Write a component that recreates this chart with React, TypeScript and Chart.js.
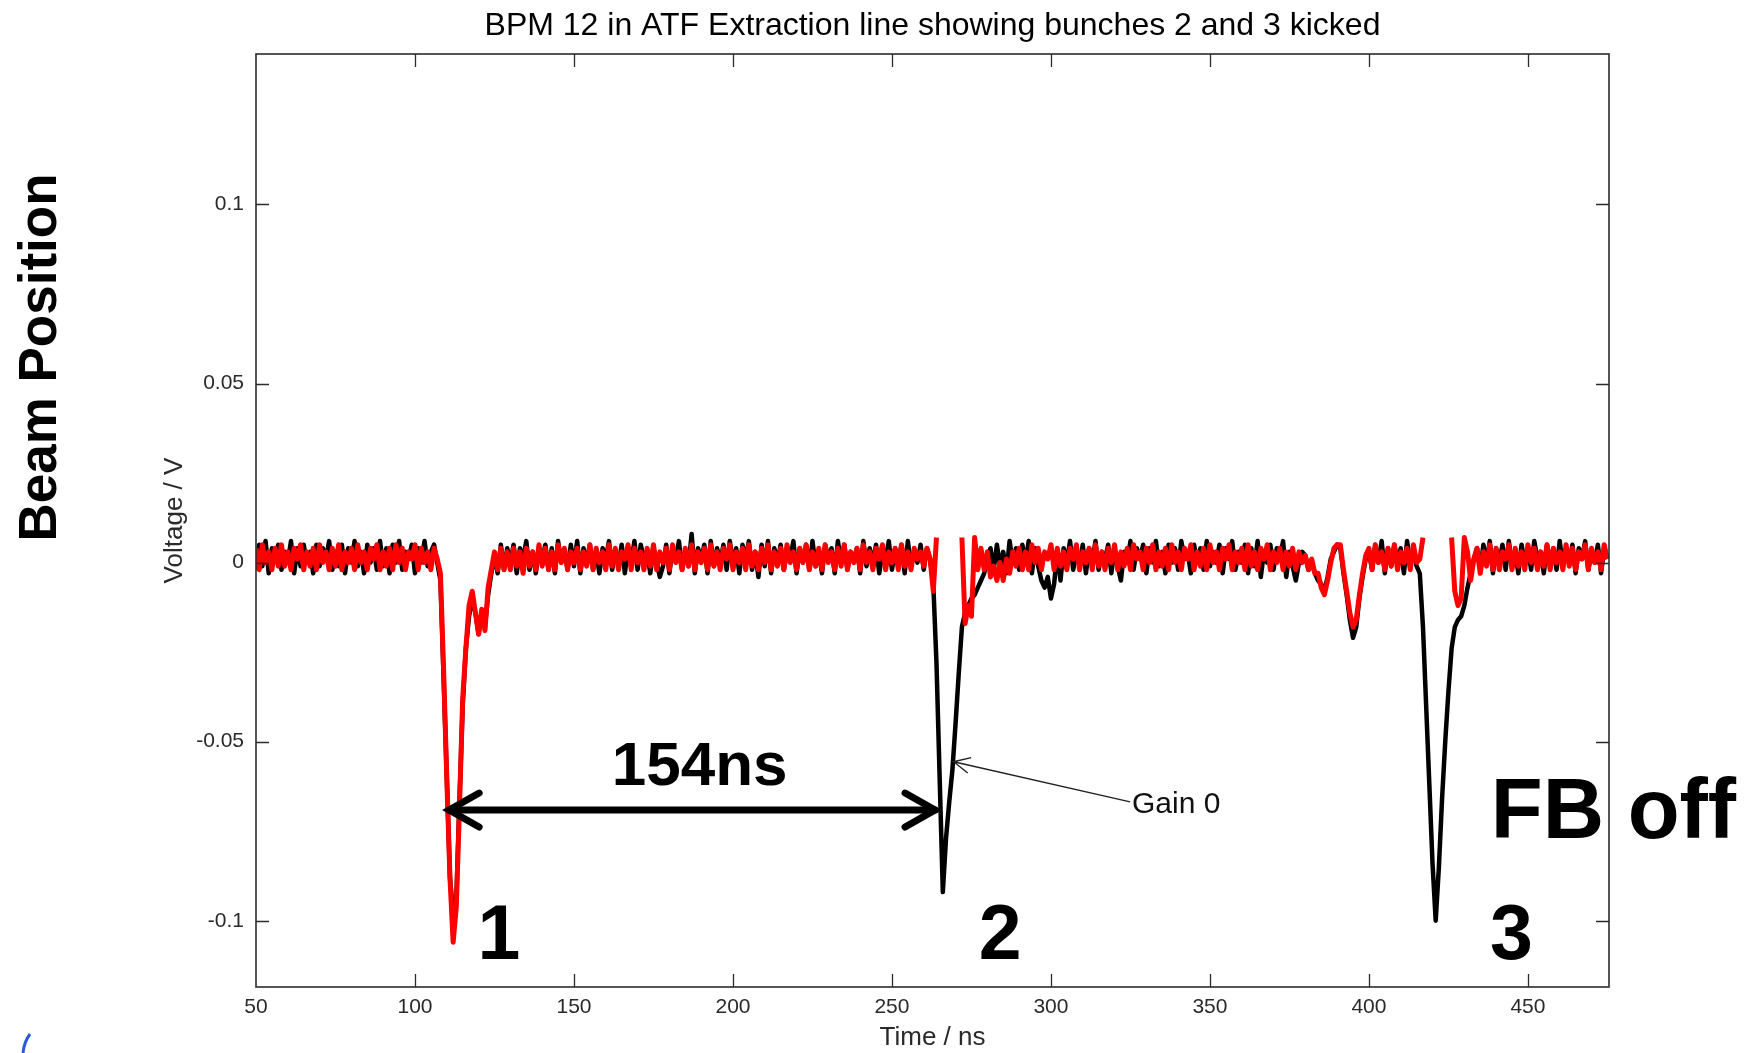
import React, { useEffect, useRef } from 'react';
import { Chart, registerables } from 'chart.js';

Chart.register(...registerables);

// ---------------- data ----------------
const TITLE = 'BPM 12 in ATF Extraction line showing bunches 2 and 3 kicked';
const X_TITLE = 'Time / ns';
const Y_TITLE = 'Voltage / V';
const SIDE_LABEL = 'Beam Position';

const X_TICKS = [50, 100, 150, 200, 250, 300, 350, 400, 450];
const X_TICK_LABELS = ['50', '100', '150', '200', '250', '300', '350', '400', '450'];
const Y_TICKS = [0.1, 0.05, 0, -0.05, -0.1];
const Y_TICK_LABELS = ['0.1', '0.05', '0', '-0.05', '-0.1'];

const X_MIN = 50;
const X_MAX = 475.5;
const Y_MIN = -0.1185;
const Y_MAX = 0.142;

// samples every 1 ns starting at 50 ns, values in mV
const T_START_NS = 50;
const T_STEP_NS = 1;

// Gain 0 / FB off trace (black)
const BLACK_MV = [
  -2, 5, -1, 6, -3, 4, 1, 5, -2, 3, // 50
  0, 6, -3, 4, -1, 5, 0, 3, -3, 5, // 60
  -1, 4, 1, 6, -2, 3, -1, 5, -3, 4, // 70
  0, 6, -1, 3, -3, 5, 0, 4, -2, 6, // 80
  -1, 4, -3, 5, 0, 6, -2, 3, 1, 5, // 90
  -3, 4, 0, 6, -1, 3, 5, 0, -5, -32, // 100
  -60, -88, -98, -94, -66, -40, -24, -15, -10, -14, // 110
  -20, -14, -18, -9, -3, 2, -3, 5, -2, 4, // 120
  0, 5, -3, 4, 1, 6, -2, 3, -3, 4, // 130
  1, 5, -2, 4, -3, 6, 0, 3, -2, 5, // 140
  -1, 6, -3, 4, 0, 5, -2, 3, -3, 4, // 150
  1, 6, -2, 3, -1, 5, -3, 4, 0, 6, // 160
  -2, 5, 1, 3, -3, 4, 0, -4, -1, 5, // 170
  -3, 4, 1, 6, -2, 3, -1, 8, -3, 4, // 180
  1, 5, -3, 6, -1, 4, 0, 5, -2, 6, // 190
  0, 4, -3, 5, 1, 6, -2, 3, -4, 5, // 200
  -1, 6, -3, 4, 0, 5, -2, 3, 1, 6, // 210
  -3, 4, 0, 5, -2, 6, -1, 3, -3, 5, // 220
  1, 4, -3, 6, 0, 5, -2, 3, 1, 4, // 230
  -3, 6, -1, 4, 0, 5, -3, 3, 1, 6, // 240
  -2, 4, 0, 5, -3, 6, -1, 3, 0, 5, // 250
  -2, 4, 1, -6, -28, -60, -92, -77, -67, -58, // 260
  -45, -31, -18, -14, -12, -10, -9, -7, -5, -3, // 270
  1, 4, -2, 5, -1, 3, -3, 6, 0, 4, // 280
  -2, 5, 0, 6, -3, 4, -1, -5, -7, -4, // 290
  -10, -6, 3, -5, 4, 0, 6, -2, 3, -1, // 300
  5, -3, 4, 0, 6, -2, 3, 1, 5, -3, // 310
  4, -1, -5, 3, 0, 6, -2, 4, 1, 5, // 320
  -3, 4, 0, 6, -1, 3, -3, 5, 0, 4, // 330
  -2, 6, 1, 3, -3, 5, 0, 4, -2, 6, // 340
  -1, 3, 0, 5, -3, 4, 1, 6, -2, 3, // 350
  0, 5, -3, 4, -1, 6, -4, 3, 0, 5, // 360
  -2, 4, 1, 6, -4, 3, -1, -5, 0, 3, // 370
  2, -2, 0, -3, -5, -6, -8, -4, 1, 3, // 380
  5, 4, -3, -9, -16, -21, -18, -10, -4, 1, // 390
  3, -2, 5, 0, 6, -3, 4, -1, 5, 0, // 400
  4, -3, 6, 0, 3, -1, -3, -18, -40, -62, // 410
  -84, -100, -85, -66, -50, -36, -24, -18, -16, -15, // 420
  -12, -7, -3, 1, 4, -2, 5, 0, 6, -3, // 430
  4, 0, 5, -2, 6, -1, 3, -3, 5, 0, // 440
  4, -2, 6, 1, 3, -3, 5, 0, 4, -2, // 450
  6, -1, 3, 0, 5, -3, 4, 1, 6, -2, // 460
  3, 0, 5, -3, 4, 1, // 470
];

// kicked trace (red); null = off the visible band
const RED_MV = [
  4, -2, 5, 0, 3, -2, 4, -1, 5, -1, // 50
  3, -2, 4, 1, 5, -2, 3, -1, 4, -2, // 60
  5, 0, 3, -2, 4, -1, 5, -2, 3, 0, // 70
  4, -2, 5, 0, 3, -2, 4, 1, 5, -2, // 80
  3, -1, 4, -2, 5, 0, 4, -2, 3, 1, // 90
  5, -2, 4, 0, 3, -2, 4, 1, -3, -30, // 100
  -60, -88, -106, -96, -68, -38, -24, -12, -8, -14, // 110
  -20, -13, -19, -7, -2, 3, -2, 4, -2, 3, // 120
  -2, 4, -1, 3, -3, 4, -1, 3, -2, 5, // 130
  -1, 4, -2, 3, -2, 5, 0, 4, -2, 3, // 140
  0, 4, -2, 3, -1, 5, -2, 4, 0, 3, // 150
  -2, 5, -1, 4, -2, 3, 1, 5, -2, 4, // 160
  0, 3, -2, 4, -1, 5, -2, 3, 0, 4, // 170
  -2, 5, 0, 3, -2, 4, -1, 5, -2, 3, // 180
  0, 4, -2, 5, -1, 3, -2, 4, 1, 5, // 190
  -2, 3, 0, 4, -2, 5, -1, 3, -2, 4, // 200
  0, 5, -2, 3, -1, 4, -2, 5, 0, 3, // 210
  -2, 4, 0, 5, -2, 3, -1, 4, -2, 5, // 220
  0, 3, -2, 4, -1, 5, -2, 3, 0, 4, // 230
  -2, 5, 0, 3, -2, 4, 1, 5, -2, 3, // 240
  0, 4, -2, 5, -1, 3, -2, 4, 1, 3, // 250
  -1, 4, 1, -8, 7, null, null, null, null, null, // 260
  null, null, 7, -17, -12, -15, 7, -2, 4, -2, // 270
  3, -4, -1, -5, 0, -5, 1, -3, 3, -1, // 280
  4, -2, 3, -2, 5, 0, 4, -2, 3, 1, // 290
  5, -2, 4, -1, 3, -2, 4, 1, 5, -2, // 300
  3, 0, 4, -2, 5, -1, 3, -2, 4, 0, // 310
  5, -2, 3, -1, 4, -2, 5, 1, 3, -2, // 320
  4, 0, 5, -2, 3, -1, 4, -2, 5, 0, // 330
  3, -2, 4, 1, 5, -2, 3, -1, 4, -2, // 340
  5, 0, 3, -2, 4, 1, 5, -2, 3, 0, // 350
  4, -2, 5, -1, 3, -2, 4, 1, 5, -2, // 360
  3, 0, 4, -2, 3, -1, 4, -2, 3, 0, // 370
  2, -2, 1, -3, -3, -7, -9, -5, 0, 4, // 380
  5, 5, -2, -8, -14, -18, -16, -9, -3, 2, // 390
  4, -2, 5, 0, 3, -2, 4, -1, 5, -2, // 400
  3, 0, 4, -2, 5, 0, 1, 7, null, null, // 410
  null, null, null, null, null, null, 7, -8, -12, -10, // 420
  7, 3, -5, 1, 4, -3, 3, -1, 5, -2, // 430
  4, -2, 3, 1, 5, -2, 4, -1, 3, -2, // 440
  5, 0, 4, -2, 3, -1, 5, -2, 4, 0, // 450
  3, -2, 5, -1, 4, -2, 3, 1, 5, -2, // 460
  4, 0, 3, -2, 5, 1, // 470
];

// annotations (data coordinates: ns, V)
const SPAN_ARROW = { from: 109.8, to: 264.5, v: -0.0691 };
const SPAN_LABEL = { text: '154ns', t: 189.5, v: -0.0621 };
const BUNCH_LABELS = [
  { text: '1', t: 126.4 },
  { text: '2', t: 284.0 },
  { text: '3', t: 444.8 },
];
const BUNCH_LABEL_V = -0.1107;
const FB_LABEL = { text: 'FB off', t: 438.3, v: -0.0769 };
const GAIN_LABEL = { text: 'Gain 0', t: 325.5, v: -0.0700 };
const GAIN_ARROW = { tipT: 269.4, tipV: -0.0556, tailT: 324.9, tailV: -0.0668 };

// ---------------- styling / layout ----------------
const W = 1744;
const H = 1053;
const FONT = '"Liberation Sans", Arial, Helvetica, sans-serif';
const AXIS_COLOR = '#2b2b2b';
const TEXT_COLOR = '#2a2a2a';
const TICK_LEN = 13;

const toPoints = (arr: (number | null)[]) =>
  arr.map((v, i) => ({ x: T_START_NS + i * T_STEP_NS, y: v === null ? null : v / 1000 }));

const overlayPlugin = {
  id: 'overlay',
  afterDraw(chart: any) {
    const { ctx, chartArea: a, scales } = chart;
    const xs = scales.x;
    const ys = scales.y;
    ctx.save();

    // axes box
    ctx.strokeStyle = AXIS_COLOR;
    ctx.lineWidth = 1.6;
    ctx.strokeRect(a.left, a.top, a.right - a.left, a.bottom - a.top);

    // inward ticks on all four sides
    ctx.lineWidth = 1.3;
    ctx.beginPath();
    xs.ticks.forEach((t: any) => {
      const p = Math.round(xs.getPixelForValue(t.value)) + 0.5;
      if (p <= a.left + 2 || p >= a.right - 2) return;
      ctx.moveTo(p, a.bottom);
      ctx.lineTo(p, a.bottom - TICK_LEN);
      ctx.moveTo(p, a.top);
      ctx.lineTo(p, a.top + TICK_LEN);
    });
    ys.ticks.forEach((t: any) => {
      const p = Math.round(ys.getPixelForValue(t.value)) + 0.5;
      if (p <= a.top + 2 || p >= a.bottom - 2) return;
      ctx.moveTo(a.left, p);
      ctx.lineTo(a.left + TICK_LEN, p);
      ctx.moveTo(a.right, p);
      ctx.lineTo(a.right - TICK_LEN, p);
    });
    ctx.stroke();

    // 154 ns double arrow
    const ay = ys.getPixelForValue(SPAN_ARROW.v);
    const ax1 = xs.getPixelForValue(SPAN_ARROW.from);
    const ax2 = xs.getPixelForValue(SPAN_ARROW.to);
    ctx.strokeStyle = '#000';
    ctx.lineWidth = 7;
    ctx.lineCap = 'round';
    ctx.lineJoin = 'miter';
    ctx.beginPath();
    ctx.moveTo(ax1 + 3, ay);
    ctx.lineTo(ax2 - 3, ay);
    ctx.stroke();
    ctx.beginPath();
    ctx.moveTo(ax1 + 33, ay - 17);
    ctx.lineTo(ax1 + 3, ay);
    ctx.lineTo(ax1 + 33, ay + 17);
    ctx.moveTo(ax2 - 33, ay - 17);
    ctx.lineTo(ax2 - 3, ay);
    ctx.lineTo(ax2 - 33, ay + 17);
    ctx.stroke();

    // big labels
    ctx.fillStyle = '#000';
    ctx.textBaseline = 'alphabetic';
    ctx.textAlign = 'center';
    ctx.font = `bold 62px ${FONT}`;
    ctx.fillText(SPAN_LABEL.text, xs.getPixelForValue(SPAN_LABEL.t), ys.getPixelForValue(SPAN_LABEL.v));

    ctx.font = `bold 77px ${FONT}`;
    BUNCH_LABELS.forEach((b) => {
      ctx.fillText(b.text, xs.getPixelForValue(b.t), ys.getPixelForValue(BUNCH_LABEL_V));
    });

    ctx.textAlign = 'left';
    ctx.font = `bold 85px ${FONT}`;
    ctx.fillText(FB_LABEL.text, xs.getPixelForValue(FB_LABEL.t), ys.getPixelForValue(FB_LABEL.v));

    // Gain 0 text arrow
    const tx = xs.getPixelForValue(GAIN_ARROW.tipT);
    const ty = ys.getPixelForValue(GAIN_ARROW.tipV);
    const sx = xs.getPixelForValue(GAIN_ARROW.tailT);
    const sy = ys.getPixelForValue(GAIN_ARROW.tailV);
    ctx.strokeStyle = '#222';
    ctx.lineWidth = 1.4;
    ctx.lineCap = 'butt';
    ctx.beginPath();
    ctx.moveTo(sx, sy);
    ctx.lineTo(tx, ty);
    const ang = Math.atan2(sy - ty, sx - tx);
    const hl = 18;
    const spread = 0.45;
    ctx.moveTo(tx + hl * Math.cos(ang - spread), ty + hl * Math.sin(ang - spread));
    ctx.lineTo(tx, ty);
    ctx.lineTo(tx + hl * Math.cos(ang + spread), ty + hl * Math.sin(ang + spread));
    ctx.stroke();
    ctx.fillStyle = '#111';
    ctx.font = `30px ${FONT}`;
    ctx.fillText(GAIN_LABEL.text, xs.getPixelForValue(GAIN_LABEL.t), ys.getPixelForValue(GAIN_LABEL.v));

    // slide side label
    ctx.save();
    ctx.translate(a.left - 215, (a.top + a.bottom) / 2 - 163);
    ctx.rotate(-Math.PI / 2);
    ctx.textAlign = 'center';
    ctx.textBaseline = 'middle';
    ctx.fillStyle = '#000';
    ctx.font = `bold 53px ${FONT}`;
    ctx.fillText(SIDE_LABEL, 0, 0);
    ctx.restore();

    // slide decoration at bottom-left
    ctx.strokeStyle = '#2a5bd7';
    ctx.lineWidth = 3;
    ctx.beginPath();
    ctx.moveTo(30, 1034);
    ctx.quadraticCurveTo(24, 1042, 23, 1053);
    ctx.stroke();

    ctx.restore();
  },
};

export default function App() {
  const ref = useRef<HTMLCanvasElement>(null);

  useEffect(() => {
    const canvas = ref.current;
    if (!canvas) return;
    const chart = new Chart(canvas, {
      type: 'line',
      data: {
        datasets: [
          {
            label: 'FB on (kicked)',
            data: toPoints(RED_MV),
            borderColor: '#ff0000',
            borderWidth: 5,
            pointRadius: 0,
            tension: 0,
            spanGaps: false,
            borderJoinStyle: 'round',
            order: 0,
          },
          {
            label: 'Gain 0',
            data: toPoints(BLACK_MV),
            borderColor: '#000000',
            borderWidth: 4.5,
            pointRadius: 0,
            tension: 0,
            borderJoinStyle: 'round',
            order: 1,
          },
        ],
      },
      options: {
        responsive: false,
        maintainAspectRatio: false,
        animation: false,
        devicePixelRatio: 1,
        events: [],
        layout: { padding: { left: 0, right: 135, top: 0, bottom: 0 } },
        plugins: {
          legend: { display: false },
          tooltip: { enabled: false },
          title: {
            display: true,
            text: TITLE,
            fullSize: false,
            color: '#000',
            font: { family: FONT, size: 32, weight: 'normal' },
            padding: { top: 7, bottom: 8.6 },
          },
        },
        scales: {
          x: {
            type: 'linear',
            min: X_MIN,
            max: X_MAX,
            afterBuildTicks: (scale: any) => {
              scale.ticks = X_TICKS.map((value) => ({ value }));
            },
            afterFit: (scale: any) => {
              scale.height = 66;
            },
            grid: { display: false, drawTicks: false },
            border: { display: false },
            ticks: {
              autoSkip: false,
              maxRotation: 0,
              padding: 8,
              color: TEXT_COLOR,
              font: { family: FONT, size: 21 },
              callback: (_v: any, i: number) => X_TICK_LABELS[i],
            },
            title: {
              display: true,
              text: X_TITLE,
              color: TEXT_COLOR,
              font: { family: FONT, size: 26 },
              padding: { top: 0, bottom: 0 },
            },
          },
          y: {
            type: 'linear',
            min: Y_MIN,
            max: Y_MAX,
            afterBuildTicks: (scale: any) => {
              scale.ticks = Y_TICKS.map((value) => ({ value }));
            },
            afterFit: (scale: any) => {
              scale.width = 256;
            },
            grid: { display: false, drawTicks: false },
            border: { display: false },
            ticks: {
              autoSkip: false,
              padding: 12,
              color: TEXT_COLOR,
              font: { family: FONT, size: 21 },
              callback: (_v: any, i: number) => Y_TICK_LABELS[i],
            },
            title: {
              display: true,
              text: Y_TITLE,
              color: TEXT_COLOR,
              font: { family: FONT, size: 26 },
              padding: { top: 159, bottom: 0 },
            },
          },
        },
      },
      plugins: [overlayPlugin],
    } as any);
    return () => chart.destroy();
  }, []);

  return (
    <div style={{ position: 'absolute', left: 0, top: 0, width: W, height: H, background: '#fff', overflow: 'hidden' }}>
      <canvas ref={ref} width={W} height={H} style={{ display: 'block', width: W, height: H }} />
    </div>
  );
}
